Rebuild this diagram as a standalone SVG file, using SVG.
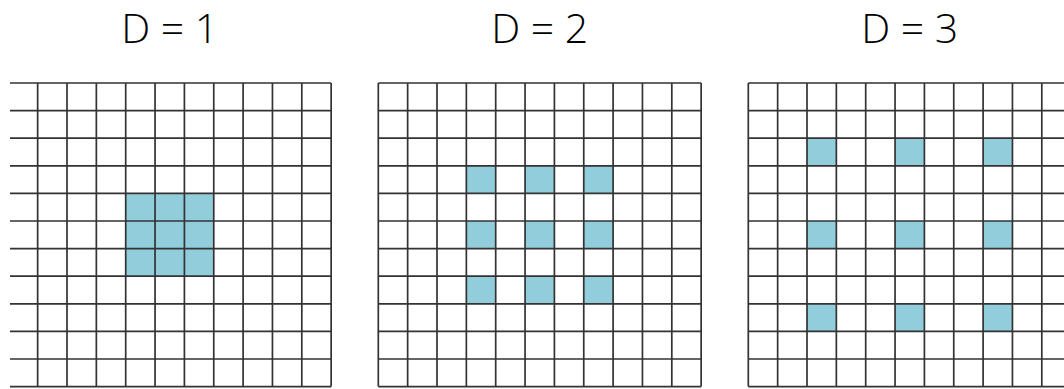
<svg xmlns="http://www.w3.org/2000/svg" xmlns:xlink="http://www.w3.org/1999/xlink" width="1064" height="389" viewBox="0 0 1064 389">
  <style>
    .title { font-family: "Open Sans", "Liberation Sans", sans-serif; font-size: 41px; font-weight: 300; fill: #000; text-anchor: middle; }
    .cell { fill: #92CDDC; }
    .grid { fill: none; stroke: #333333; stroke-width: 1.7; }
  </style>
  <defs>
    <path id="grid" class="grid" d="M0,0h322.85M0,27.6h322.85M0,55.2h322.85M0,82.8h322.85M0,110.4h322.85M0,138h322.85M0,165.6h322.85M0,193.2h322.85M0,220.8h322.85M0,248.4h322.85M0,276h322.85M0,303.6h322.85
      M0,0v303.6M29.35,0v303.6M58.7,0v303.6M88.05,0v303.6M117.4,0v303.6M146.75,0v303.6M176.1,0v303.6M205.45,0v303.6M234.8,0v303.6M264.15,0v303.6M293.5,0v303.6M322.85,0v303.6"/>
    <clipPath id="clip1">
      <rect x="10" y="0" width="400" height="389"/>
    </clipPath>
  </defs>
  <rect width="1064" height="389" fill="#fff"/>

  <g id="node-d1">
    <text class="title" x="169.7" y="42.7">D = 1</text>
    <g clip-path="url(#clip1)">
      <g transform="translate(8.3,83)">
        <rect class="cell" x="117.4" y="110.4" width="88.05" height="82.8"/>
        <use xlink:href="#grid"/>
      </g>
    </g>
  </g>

  <g id="node-d2">
    <text class="title" x="539.7" y="42.7">D = 2</text>
    <g transform="translate(378.3,83)">
      <rect class="cell" x="88.05" y="82.8" width="29.35" height="27.6"/>
      <rect class="cell" x="146.75" y="82.8" width="29.35" height="27.6"/>
      <rect class="cell" x="205.45" y="82.8" width="29.35" height="27.6"/>
      <rect class="cell" x="88.05" y="138" width="29.35" height="27.6"/>
      <rect class="cell" x="146.75" y="138" width="29.35" height="27.6"/>
      <rect class="cell" x="205.45" y="138" width="29.35" height="27.6"/>
      <rect class="cell" x="88.05" y="193.2" width="29.35" height="27.6"/>
      <rect class="cell" x="146.75" y="193.2" width="29.35" height="27.6"/>
      <rect class="cell" x="205.45" y="193.2" width="29.35" height="27.6"/>
      <use xlink:href="#grid"/>
    </g>
  </g>

  <g id="node-d3">
    <text class="title" x="909.7" y="42.7">D = 3</text>
    <g transform="translate(748.3,83)">
      <rect class="cell" x="58.7" y="55.2" width="29.35" height="27.6"/>
      <rect class="cell" x="146.75" y="55.2" width="29.35" height="27.6"/>
      <rect class="cell" x="234.8" y="55.2" width="29.35" height="27.6"/>
      <rect class="cell" x="58.7" y="138" width="29.35" height="27.6"/>
      <rect class="cell" x="146.75" y="138" width="29.35" height="27.6"/>
      <rect class="cell" x="234.8" y="138" width="29.35" height="27.6"/>
      <rect class="cell" x="58.7" y="220.8" width="29.35" height="27.6"/>
      <rect class="cell" x="146.75" y="220.8" width="29.35" height="27.6"/>
      <rect class="cell" x="234.8" y="220.8" width="29.35" height="27.6"/>
      <use xlink:href="#grid"/>
    </g>
  </g>

  <g id="connectors"/>
</svg>
